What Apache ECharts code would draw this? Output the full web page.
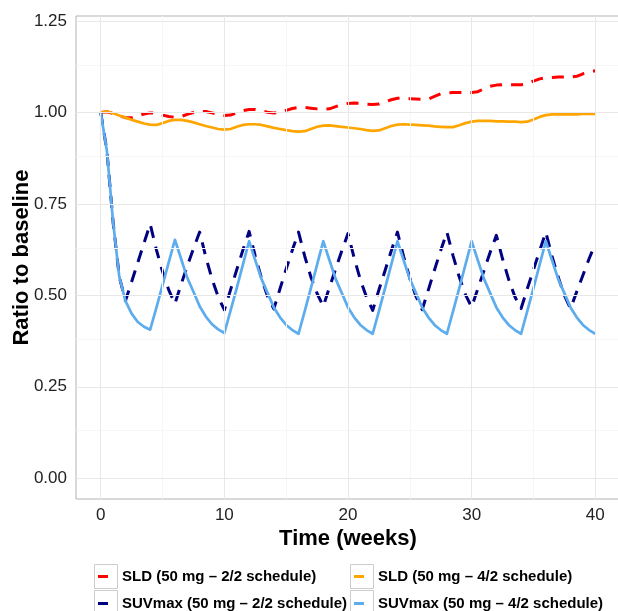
<!DOCTYPE html>
<html>
<head>
<meta charset="utf-8">
<script src="https://cdn.jsdelivr.net/npm/echarts@6/dist/echarts.min.js"></script>
<style>html,body{margin:0;padding:0;background:#fff;}#c{width:618px;height:611px;}</style>
</head>
<body>
<div id="c"></div>
<script>
// ---- data ----
const weeks = [0,0.5,1,1.5,2,2.5,3,3.5,4,4.5,5,5.5,6,6.5,7,7.5,8,8.5,9,9.5,10,10.5,11,11.5,12,12.5,13,13.5,14,14.5,15,15.5,16,16.5,17,17.5,18,18.5,19,19.5,20,20.5,21,21.5,22,22.5,23,23.5,24,24.5,25,25.5,26,26.5,27,27.5,28,28.5,29,29.5,30,30.5,31,31.5,32,32.5,33,33.5,34,34.5,35,35.5,36,36.5,37,37.5,38,38.5,39,39.5,40];

const sld22 = [1.000,1.002,0.997,0.991,0.986,0.986,0.991,0.996,0.999,
  0.998,0.993,0.989,0.987, 0.989,0.995,1.000,1.003, 1.003,0.999,0.995,0.992,
  0.993,0.999,1.005,1.008, 1.008,1.004,1.001,0.999, 1.000,1.006,1.011,1.014,
  1.014,1.012,1.010,1.009, 1.010,1.016,1.022,1.025, 1.026,1.025,1.023,1.022,
  1.023,1.029,1.035,1.039, 1.039,1.038,1.037,1.036, 1.037,1.044,1.051,1.054,
  1.055,1.055,1.055,1.055, 1.057,1.065,1.072,1.075, 1.076,1.076,1.076,1.076,
  1.078,1.086,1.092,1.095, 1.096,1.097,1.097,1.097, 1.099,1.106,1.111,1.114];

const sld42 = [1.000,1.003,0.998,0.992,0.986,0.980,0.975,0.970,0.967,
  0.966,0.971,0.977,0.980, 0.980,0.977,0.973,0.968,0.963,0.959,0.955,0.953,
  0.955,0.961,0.966,0.968, 0.968,0.966,0.962,0.958,0.955,0.952,0.949,0.948,
  0.949,0.955,0.961,0.964, 0.965,0.963,0.961,0.959,0.957,0.955,0.952,0.950,
  0.951,0.957,0.963,0.967, 0.968,0.967,0.966,0.965,0.964,0.962,0.961,0.960,
  0.960,0.965,0.971,0.975, 0.977,0.977,0.977,0.976,0.976,0.975,0.975,0.974,
  0.975,0.981,0.988,0.993, 0.995,0.995,0.995,0.995,0.995,0.996,0.996,0.996];

const suv22 = [1.000,0.895,0.700,0.551,0.485,
  0.537,0.590,0.643,0.695, 0.625,0.565,0.515,0.477,
  0.530,0.580,0.628,0.673, 0.605,0.545,0.496,0.460,
  0.515,0.570,0.624,0.675, 0.607,0.547,0.497,0.463,
  0.518,0.572,0.624,0.673, 0.607,0.550,0.505,0.470,
  0.522,0.572,0.622,0.669, 0.602,0.543,0.495,0.459,
  0.515,0.568,0.622,0.673, 0.606,0.547,0.497,0.461,
  0.515,0.570,0.623,0.673, 0.608,0.550,0.502,0.468,
  0.518,0.568,0.618,0.664, 0.600,0.543,0.496,0.464,
  0.518,0.570,0.622,0.673, 0.607,0.550,0.500,0.464,
  0.510,0.555,0.600,0.641];

const suv42 = [1.000,0.895,0.700,0.551,0.485,0.450,0.427,0.414,0.406,
  0.466,0.528,0.590,0.652, 0.600,0.548,0.510,0.470,0.442,0.421,0.407,0.397,
  0.458,0.520,0.584,0.648, 0.596,0.545,0.506,0.467,0.440,0.419,0.405,0.395,
  0.457,0.520,0.584,0.648, 0.596,0.545,0.506,0.467,0.440,0.419,0.405,0.395,
  0.457,0.520,0.584,0.648, 0.596,0.545,0.506,0.467,0.440,0.419,0.405,0.395,
  0.457,0.520,0.584,0.648, 0.596,0.545,0.506,0.467,0.440,0.419,0.405,0.395,
  0.457,0.520,0.584,0.648, 0.596,0.545,0.506,0.467,0.440,0.419,0.405,0.395];

const seriesNames = ['SLD (50 mg \u2013 2/2 schedule)','SLD (50 mg \u2013 4/2 schedule)',
                     'SUVmax (50 mg \u2013 2/2 schedule)','SUVmax (50 mg \u2013 4/2 schedule)'];

const xTicks = [0,10,20,30,40];
const xMinor = [5,15,25,35];
const yTicks = [0,0.25,0.5,0.75,1.0,1.25];
const yMinor = [0.125,0.375,0.625,0.875,1.125];

// ---- chart ----
const FONT = '"Liberation Sans", Arial, Helvetica, sans-serif';
const chart = echarts.init(document.getElementById('c'), null, {renderer:'canvas'});
const pair = arr => weeks.map((w,i)=>[w, arr[i]]);

const gridLines = [];
xMinor.forEach(v=>gridLines.push({xAxis:v, lineStyle:{color:'#f6f6f6', width:1, type:'solid'}}));
yMinor.forEach(v=>gridLines.push({yAxis:v, lineStyle:{color:'#f6f6f6', width:1, type:'solid'}}));
xTicks.forEach(v=>gridLines.push({xAxis:v, lineStyle:{color:'#e8e8e8', width:1, type:'solid'}}));
yTicks.forEach(v=>gridLines.push({yAxis:v, lineStyle:{color:'#e8e8e8', width:1, type:'solid'}}));

const iconPath = 'path://M0,0h0.01v0.01h-0.01Z M23,14h0.01v0.01h-0.01Z M4,5.5h10v3h-10Z';

function lineSeries(name, arr, color, dashed, width){
  return {
    name, type:'line', data: pair(arr), showSymbol:false, symbol:'none',
    smooth:false, z:3, animation:false,
    itemStyle:{color},
    lineStyle:{color, width, type: dashed ? [12,9] : 'solid', cap:'butt', join:'round'}
  };
}

const legendCommon = {
  orient:'vertical', itemWidth:23, itemHeight:14, itemGap:12, icon:iconPath,
  top:569, z:10, selectedMode:false, padding:0,
  itemStyle:{borderWidth:0},
  textStyle:{fontFamily:FONT, fontSize:15, fontWeight:'bold', color:'#000'}
};

const boxStyle = {fill:'#fff', stroke:'#cccccc', lineWidth:1};

chart.setOption({
  animation:false,
  backgroundColor:'#ffffff',
  grid:{left:76, top:16, width:544, height:483, outerBoundsMode:'none', containLabel:false,
        show:true, borderColor:'#b3b3b3', borderWidth:1, backgroundColor:'transparent'},
  xAxis:{
    type:'value', min:-2, max:42,
    name:'Time (weeks)', nameLocation:'middle', nameGap:29, nameMoveOverlap:false,
    nameTextStyle:{fontFamily:FONT, fontSize:22, fontWeight:'bold', color:'#000'},
    axisLine:{show:false},
    axisTick:{show:true, length:5, customValues:xTicks, lineStyle:{color:'#333'}},
    axisLabel:{customValues:xTicks, margin:8, fontFamily:FONT, fontSize:17, color:'#222'},
    splitLine:{show:false}
  },
  yAxis:{
    type:'value', min:-0.057, max:1.264,
    name:'Ratio to baseline', nameLocation:'middle', nameGap:43, nameMoveOverlap:false,
    nameTextStyle:{fontFamily:FONT, fontSize:22, fontWeight:'bold', color:'#000'},
    axisLine:{show:false},
    axisTick:{show:true, length:5, customValues:yTicks, lineStyle:{color:'#333'}},
    axisLabel:{customValues:yTicks, margin:9, fontFamily:FONT, fontSize:17, color:'#222',
               formatter: v => Number(v).toFixed(2)},
    splitLine:{show:false}
  },
  legend:[
    Object.assign({}, legendCommon, {left:94, data:[seriesNames[0], seriesNames[2]]}),
    Object.assign({}, legendCommon, {left:350, data:[seriesNames[1], seriesNames[3]]})
  ],
  graphic:[
    {type:'rect', left:94, top:564, z:1, shape:{width:23,height:24}, style:boxStyle},
    {type:'rect', left:94, top:590, z:1, shape:{width:23,height:24}, style:boxStyle},
    {type:'rect', left:350, top:564, z:1, shape:{width:23,height:24}, style:boxStyle},
    {type:'rect', left:350, top:590, z:1, shape:{width:23,height:24}, style:boxStyle}
  ],
  series:[
    {type:'line', data:[], z:1, silent:true, markLine:{silent:true, symbol:'none', animation:false, label:{show:false}, data:gridLines}},
    lineSeries(seriesNames[0], sld22, '#ff0000', true, 3),
    lineSeries(seriesNames[1], sld42, '#ffa500', false, 2.7),
    lineSeries(seriesNames[2], suv22, '#000080', true, 3),
    lineSeries(seriesNames[3], suv42, '#5cacee', false, 2.7)
  ]
});
</script>
</body>
</html>
